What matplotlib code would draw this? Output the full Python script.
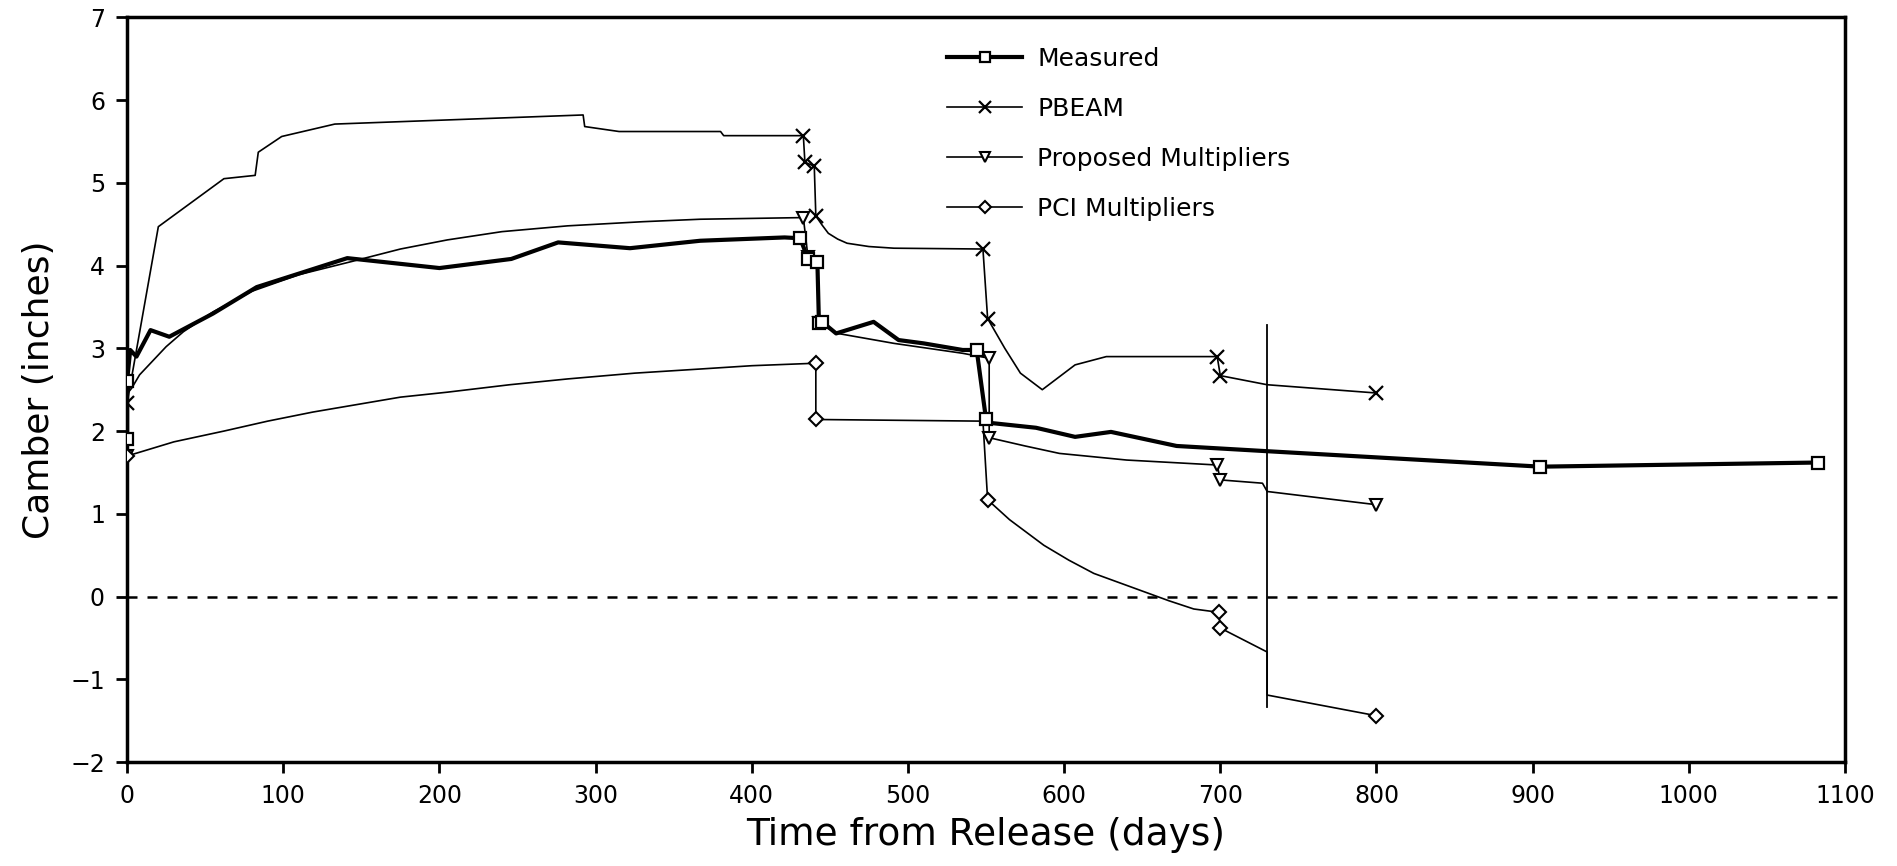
import matplotlib
matplotlib.use("Agg")
import matplotlib.pyplot as plt

plt.rcParams['font.family'] = ['DejaVu Sans']

# ---------------- data ----------------
measured_days = [0, 0, 2, 6, 15, 27, 55, 83, 141, 200, 246, 276, 322, 367, 421, 431,
                 436, 442, 443, 445, 454, 478, 494, 510, 535, 544, 550, 552, 582, 607,
                 630, 672, 727, 905, 1083]
measured_vals = [1.90, 2.61, 2.98, 2.90, 3.22, 3.14, 3.42, 3.74, 4.09, 3.97, 4.08, 4.28,
                 4.21, 4.30, 4.34, 4.33, 4.08, 4.04, 3.30, 3.32, 3.18, 3.32, 3.10, 3.06,
                 2.98, 2.98, 2.14, 2.10, 2.04, 1.93, 1.99, 1.82, 1.76, 1.57, 1.62]
measured_marks = [0, 1, 15, 16, 17, 18, 19, 25, 26, 33, 34]

pbeam_days = [0, 20, 62, 82, 84, 99, 133, 292, 293, 315, 380, 382, 433, 434, 440, 441,
              445, 449, 455, 461, 475, 491, 548, 551, 562, 572, 586, 607, 627, 698, 700,
              730, 800]
pbeam_vals = [2.34, 4.47, 5.05, 5.09, 5.37, 5.56, 5.71, 5.82, 5.68, 5.62, 5.62, 5.57,
              5.57, 5.25, 5.20, 4.60, 4.49, 4.39, 4.32, 4.27, 4.23, 4.21, 4.20, 3.36,
              3.00, 2.70, 2.50, 2.80, 2.90, 2.90, 2.67, 2.56, 2.46]
pbeam_marks = [0, 12, 13, 14, 15, 22, 23, 29, 30, 32]

prop_days = [0, 0, 3, 8, 15, 25, 36, 55, 80, 110, 144, 175, 205, 240, 282, 330, 367,
             433, 436, 442, 443, 455, 491, 535, 552, 552, 575, 597, 640, 698, 700, 727,
             730, 800]
prop_vals = [1.70, 2.45, 2.52, 2.68, 2.82, 3.02, 3.20, 3.44, 3.69, 3.89, 4.05, 4.20,
             4.31, 4.41, 4.48, 4.53, 4.56, 4.58, 4.10, 4.07, 3.30, 3.18, 3.06, 2.94,
             2.88, 1.92, 1.82, 1.73, 1.65, 1.59, 1.41, 1.37, 1.27, 1.11]
prop_marks = [0, 17, 18, 20, 24, 25, 29, 30, 33]

pci_days = [0, 2, 30, 62, 90, 119, 175, 205, 245, 282, 325, 367, 400, 441, 441, 548,
            551, 565, 587, 603, 619, 635, 651, 667, 683, 699, 700, 730, 730, 800]
pci_vals = [1.70, 1.71, 1.87, 2.00, 2.12, 2.23, 2.41, 2.47, 2.56, 2.63, 2.70, 2.75,
            2.79, 2.82, 2.14, 2.12, 1.17, 0.93, 0.62, 0.44, 0.28, 0.17, 0.06, -0.05,
            -0.15, -0.19, -0.38, -0.67, -1.19, -1.44]
pci_marks = [0, 13, 14, 16, 25, 26, 29]

event_days = [730, 730]
event_vals = [3.28, -1.33]

x_ticks = [0, 100, 200, 300, 400, 500, 600, 700, 800, 900, 1000, 1100]
y_ticks = [-2, -1, 0, 1, 2, 3, 4, 5, 6, 7]

# ---------------- figure ----------------
fig = plt.figure(figsize=(18.97, 8.66), dpi=100)
ax = fig.add_axes([0.067, 0.120, 0.9056, 0.860])

ax.axhline(0, color='black', lw=1.8, ls=(0, (4, 4)), zorder=1)
ax.plot(event_days, event_vals, color='black', lw=1.3, zorder=2)

ax.plot(measured_days, measured_vals, color='black', lw=3.0, marker='s', ms=9,
        mfc='white', mec='black', mew=1.6, markevery=measured_marks, label='Measured', zorder=5)
ax.plot(pbeam_days, pbeam_vals, color='black', lw=1.2, marker='x', ms=10, mew=1.6,
        markevery=pbeam_marks, label='PBEAM', zorder=4)
ax.plot(prop_days, prop_vals, color='black', lw=1.2, marker='v', ms=9, mfc='white',
        mec='black', mew=1.5, markevery=prop_marks, label='Proposed Multipliers', zorder=4)
ax.plot(pci_days, pci_vals, color='black', lw=1.2, marker='D', ms=7.5, mfc='white',
        mec='black', mew=1.5, markevery=pci_marks, label='PCI Multipliers', zorder=4)

ax.set_xlim(0, 1100)
ax.set_ylim(-2, 7)
ax.set_xticks(x_ticks)
ax.set_yticks(y_ticks)
ax.tick_params(direction='out', length=8, width=2, labelsize=17, pad=8)
for s in ax.spines.values():
    s.set_linewidth(2.5)

ax.set_xlabel('Time from Release (days)', fontsize=27, labelpad=6)
ax.set_ylabel('Camber (inches)', fontsize=26, labelpad=10)

leg = ax.legend(loc='upper left', bbox_to_anchor=(0.4773, 0.960), frameon=False,
                fontsize=18, handlelength=3.0, handletextpad=0.6, labelspacing=1.04,
                borderpad=0, borderaxespad=0, markerscale=0.85)

fig.savefig('out.png', dpi=100)
